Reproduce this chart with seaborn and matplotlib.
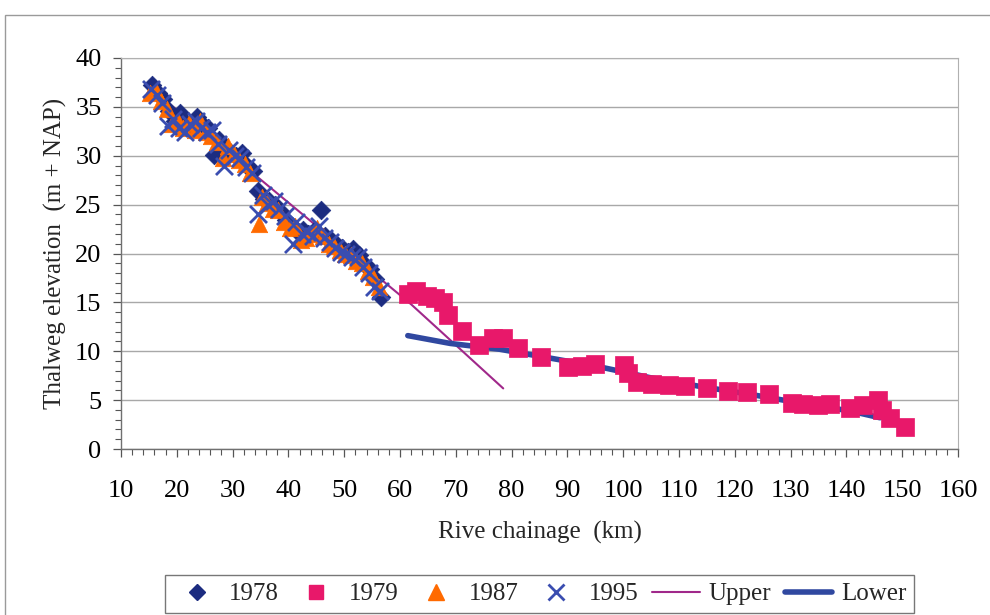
import matplotlib
matplotlib.use("Agg")
import matplotlib.pyplot as plt
from matplotlib.lines import Line2D
from matplotlib.patches import Rectangle
from matplotlib.ticker import MultipleLocator
import seaborn as sns

# ---------------- data ----------------
x78 = [15.6, 16.6, 17.6, 18.6, 19.6, 20.6, 21.6, 22.6, 23.6, 24.6, 25.6, 26.6, 27.6, 28.6,
       29.6, 30.6, 31.6, 32.6, 33.6, 34.6, 35.6, 36.6, 37.6, 38.6, 39.6, 40.6, 41.6, 42.6,
       43.6, 44.6, 45.8, 46.6, 47.6, 48.6, 49.6, 50.6, 51.6, 52.6, 53.6, 54.6, 55.6, 56.6]
y78 = [37.2, 36.4, 35.8, 34.6, 33.6, 34.4, 33.4, 33.0, 34.0, 33.2, 32.8, 30.1, 31.6, 30.8,
       30.4, 30.0, 30.3, 29.0, 28.4, 26.4, 25.6, 25.4, 25.0, 24.2, 23.4, 22.8, 22.3, 22.4,
       22.0, 22.3, 24.5, 21.8, 21.4, 21.0, 20.6, 20.2, 20.5, 19.8, 18.9, 18.4, 17.4, 15.5]

x79 = [61.4, 62.9, 64.8, 66.3, 67.7, 68.6, 71.2, 74.2, 76.7, 78.5, 81.1, 85.3, 90.1, 92.6,
       94.9, 100.1, 100.9, 102.5, 105.2, 108.2, 111.1, 115.0, 118.8, 122.2, 126.1, 130.3,
       132.2, 134.9, 137.1, 140.6, 143.0, 145.7, 146.4, 147.8, 150.5]
y79 = [15.9, 16.2, 15.7, 15.4, 15.0, 13.7, 12.1, 10.6, 11.4, 11.4, 10.3, 9.4, 8.4, 8.5,
       8.7, 8.6, 7.8, 6.9, 6.7, 6.5, 6.4, 6.2, 5.9, 5.8, 5.6, 4.7,
       4.6, 4.5, 4.6, 4.2, 4.5, 5.0, 4.0, 3.2, 2.3]

x87 = [15.2, 16.2, 17.2, 18.2, 19.2, 20.2, 21.2, 22.2, 23.2, 24.2, 25.2, 26.2, 27.2, 28.2,
       29.2, 30.2, 31.2, 32.2, 33.2, 34.7, 35.2, 36.2, 37.2, 38.2, 39.2, 40.2, 41.2, 42.2,
       43.2, 44.2, 45.2, 46.2, 47.2, 48.2, 49.2, 50.2, 51.2, 52.2, 53.2, 54.2, 55.2, 56.2]
y87 = [36.4, 36.6, 35.6, 34.8, 33.2, 33.6, 32.8, 33.4, 32.6, 33.6, 32.4, 32.0, 31.4, 29.8,
       31.0, 30.2, 29.6, 29.2, 28.2, 23.0, 25.8, 25.2, 24.6, 24.4, 23.2, 22.6, 22.8, 21.4,
       21.6, 22.0, 22.6, 21.8, 21.0, 20.8, 20.4, 20.0, 19.8, 19.2, 19.0, 18.2, 17.6, 16.6]

x95 = [15.4, 16.4, 17.4, 18.4, 19.4, 20.4, 21.4, 22.4, 23.4, 24.4, 25.4, 26.4, 27.4, 28.4,
       29.4, 30.4, 31.4, 32.4, 33.4, 34.6, 35.4, 36.4, 37.4, 38.4, 39.4, 40.8, 41.4, 42.4,
       43.4, 44.4, 45.4, 46.4, 47.4, 48.4, 49.4, 50.4, 51.4, 52.4, 53.4, 54.4, 55.4, 56.4]
y95 = [36.8, 36.2, 35.4, 33.0, 33.8, 32.8, 32.4, 33.2, 33.6, 32.8, 32.4, 32.6, 31.2, 29.0,
       30.6, 30.0, 29.8, 28.8, 28.2, 24.0, 26.0, 25.0, 25.4, 24.6, 23.8, 21.0, 23.2, 22.0,
       22.2, 21.8, 22.8, 21.6, 21.2, 20.6, 20.2, 20.0, 19.6, 19.6, 18.6, 18.0, 16.6, 16.2]

x_upper = [15.5, 62.0, 78.5]
y_upper = [36.8, 14.8, 6.2]

x_lower = [61.4, 69.0, 77.9, 86.9, 95.8, 104.8, 113.8, 122.7, 131.7, 140.6, 146.0]
y_lower = [11.6, 10.8, 10.2, 9.3, 8.4, 7.3, 6.4, 5.6, 4.7, 3.9, 3.2]

x_ticks = list(range(10, 161, 10))
y_ticks = list(range(0, 41, 5))

# ---------------- style ----------------
sns.set_theme(style="white")
plt.rcParams['font.family'] = ['Liberation Serif', 'DejaVu Serif']

c78, c79, c87, c95 = "#1C2C80", "#E8186A", "#FF6A00", "#3A4DB0"
c_up, c_low = "#A0288A", "#3048A0"

fig = plt.figure(figsize=(9.9, 6.15), dpi=100)
ax = fig.add_axes([0.1222, 0.2699, 0.9677 - 0.1222, 0.9057 - 0.2699])

# outer chart border
fig.patches.append(Rectangle((0.005, -0.01), 1.2, 0.985, transform=fig.transFigure,
                             fill=False, edgecolor="#9a9a9a", lw=1.0, zorder=0))

sns.lineplot(x=x_upper, y=y_upper, ax=ax, color=c_up, lw=1.5, zorder=2,
             sort=False, estimator=None)
sns.lineplot(x=x_lower, y=y_lower, ax=ax, color=c_low, lw=4.0, zorder=2,
             sort=False, estimator=None)

sns.scatterplot(x=x78, y=y78, ax=ax, marker="D", s=90, color=c78, edgecolor=c78,
                linewidth=0.5, zorder=3)
sns.scatterplot(x=x79, y=y79, ax=ax, marker="s", s=170, color=c79, edgecolor=c79,
                linewidth=0.5, zorder=3)
sns.scatterplot(x=x87, y=y87, ax=ax, marker="^", s=140, color=c87, edgecolor=c87,
                linewidth=0.5, zorder=3)
sns.scatterplot(x=x95, y=y95, ax=ax, marker="x", s=150, color=c95, linewidth=2.0,
                zorder=4)

ax.set_xlim(10, 160)
ax.set_ylim(0, 40)
ax.set_xticks(x_ticks)
ax.set_yticks(y_ticks)
ax.xaxis.set_minor_locator(MultipleLocator(2))
ax.yaxis.set_minor_locator(MultipleLocator(1))
ax.tick_params(axis="both", which="both", direction="out", colors="#555555",
               labelcolor="black", labelsize=19)
ax.tick_params(axis="both", which="major", length=6, width=0.9, bottom=True, left=True)
ax.tick_params(axis="both", which="minor", length=4, width=0.8, bottom=True, left=True)
ax.tick_params(axis="x", which="major", pad=16)
ax.tick_params(axis="y", which="major", pad=8)
ax.grid(axis="y", which="major", color="#a8a8a8", lw=1.0)
ax.set_axisbelow(True)
for side in ["top", "right"]:
    ax.spines[side].set_color("#b0b0b0")
    ax.spines[side].set_linewidth(0.8)
for side in ["left", "bottom"]:
    ax.spines[side].set_color("#707070")
    ax.spines[side].set_linewidth(1.0)

ax.set_xlabel("Rive chainage  (km)", fontsize=18, labelpad=14)
ax.set_ylabel("Thalweg elevation  (m + NAP)", fontsize=18, labelpad=6)

handles = [
    Line2D([], [], ls="none", marker="D", ms=8, color=c78),
    Line2D([], [], ls="none", marker="s", ms=10, color=c79),
    Line2D([], [], ls="none", marker="^", ms=11, color=c87),
    Line2D([], [], ls="none", marker="x", ms=11, mew=2, color=c95),
    Line2D([], [], color=c_up, lw=1.5),
    Line2D([], [], color=c_low, lw=4),
]
labels = ["1978", "1979", "1987", "1995", "Upper", "Lower"]
leg = fig.legend(handles, labels, loc="center", bbox_to_anchor=(0.545, 0.034),
                 ncol=6, fontsize=18, frameon=True, fancybox=False,
                 handlelength=1.9, handletextpad=0.35, columnspacing=0.55,
                 borderpad=0.3)
leg.get_frame().set_edgecolor("#555555")
leg.get_frame().set_linewidth(1.0)

fig.savefig("out.png", dpi=100, facecolor="white")
